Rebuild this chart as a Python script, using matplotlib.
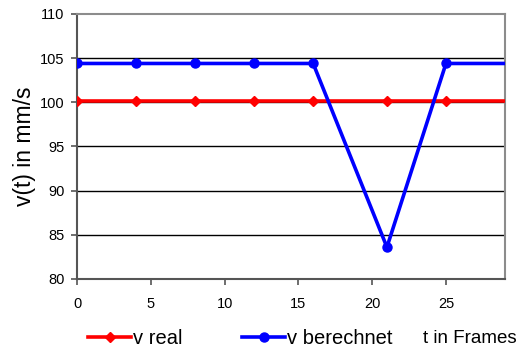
import matplotlib
matplotlib.use("Agg")
import matplotlib.pyplot as plt
from matplotlib.lines import Line2D

plt.rcParams['font.family'] = ['Liberation Sans', 'DejaVu Sans']

# Frames and measured speeds
t_frames = [0, 4, 8, 12, 16, 21, 25, 33]
v_real = [100.2, 100.2, 100.2, 100.2, 100.2, 100.2, 100.2, 100.2]
v_berechnet = [104.4, 104.4, 104.4, 104.4, 104.4, 83.6, 104.4, 104.4]
n_marked = 7

y_ticks = [80, 85, 90, 95, 100, 105, 110]
x_ticks = [0, 5, 10, 15, 20, 25]

W, H = 518, 349
fig = plt.figure(figsize=(W / 100, H / 100), dpi=100)
ax = fig.add_axes([77 / W, 1 - 279 / H, (505 - 77) / W, (279 - 14) / H])

RED, BLUE = '#ff0000', '#0000ff'
ax.plot(t_frames, v_real, color=RED, lw=2.6, zorder=3)
ax.plot(t_frames[:n_marked], v_real[:n_marked], ls='none', marker='D',
        ms=5, color=RED, zorder=3)
ax.plot(t_frames, v_berechnet, color=BLUE, lw=2.6, zorder=4)
ax.plot(t_frames[:n_marked], v_berechnet[:n_marked], ls='none', marker='o',
        ms=6.5, color=BLUE, zorder=4)

ax.set_xlim(0, 29)
ax.set_ylim(80, 110)
ax.set_xticks(x_ticks)
ax.set_yticks(y_ticks)
for y in y_ticks[1:-1]:
    ax.axhline(y, color='black', lw=1.0, zorder=1)

ax.tick_params(axis='both', direction='out', length=4, width=1.2,
               color='#555555', labelsize=10.5, pad=5)
ax.tick_params(axis='x', pad=9)
for side in ('left', 'bottom'):
    ax.spines[side].set_color('#555555')
    ax.spines[side].set_linewidth(1.5)
for side in ('top', 'right'):
    ax.spines[side].set_color('#8c8c8c')
    ax.spines[side].set_linewidth(1.5)

ax.set_ylabel('v(t) in mm/s', fontsize=16.5, labelpad=3)

# Legend row below the plot
ly = 1 - 337 / H


def legend_key(x0, x1, color, marker, ms, label):
    xm = (x0 + x1) / 2
    fig.add_artist(Line2D([x0 / W, xm / W, x1 / W], [ly, ly, ly],
                          transform=fig.transFigure, color=color, lw=2.6,
                          marker=marker, ms=ms, markevery=[1]))
    fig.text((x1 + 2) / W, ly - 0.004, label, fontsize=14.5,
             va='center', ha='left')


legend_key(88, 131, RED, 'D', 5, 'v real')
legend_key(242, 285, BLUE, 'o', 6.5, 'v berechnet')
fig.text(423 / W, ly - 0.004, 't in Frames', fontsize=13.5,
         va='center', ha='left')

fig.savefig('out.png', dpi=100)
